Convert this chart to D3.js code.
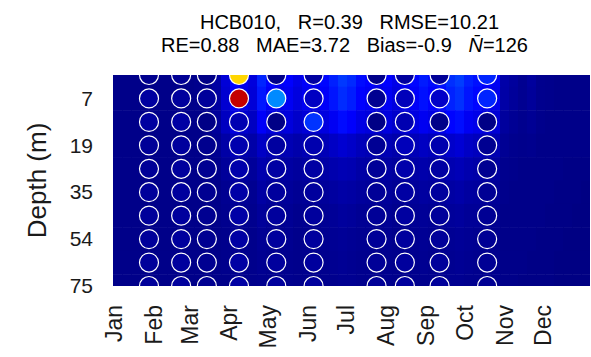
<!DOCTYPE html>
<html>
<head>
<meta charset="utf-8">
<script src="https://cdn.jsdelivr.net/npm/d3@7"></script>
<style>
  body { margin: 0; background: #fff; }
  text { font-family: "Liberation Sans", Arial, sans-serif; }
</style>
</head>
<body>
<div id="chart"></div>
<script>
// month axis
const months = ["Jan","Feb","Mar","Apr","May","Jun","Jul","Aug","Sep","Oct","Nov","Dec"];
const monthStarts = [1, 32, 60, 91, 121, 152, 182, 213, 244, 274, 305, 335];

// depth levels (m), only some are labelled
const depths = [1, 7, 13, 19, 27, 35, 44, 54, 64, 75];
const depthTicks = [7, 19, 35, 54, 75];

// model field, 7-day columns, one array per depth level
const model0 = [0.3,0.3,0.3,0.3,0.3,0.3,0.3,0.3,0.3,0.4,0.5,1.2,3.0,4.6,3.8,3.2,5.8,4.6,4.0,4.4,3.6,4.2,3.8,4.6,5.6,6.6,6.0,4.8,4.4,3.8,4.4,3.6,4.0,4.6,5.4,4.8,5.2,6.2,6.8,5.6,5.0,4.4,4.0,1.4,1.0,0.6,1.0,0.5,0.4,0.3,0.3,0.3,0.3];
const model1 = [0.3,0.3,0.3,0.3,0.3,0.3,0.3,0.3,0.3,0.4,0.5,1.1,2.8,4.2,3.5,3.0,5.3,4.2,3.7,4.0,3.3,3.9,3.5,4.2,5.2,6.1,5.5,4.4,4.0,3.5,4.0,3.3,3.7,4.2,5.0,4.4,4.8,5.7,6.3,5.2,4.6,4.0,3.7,1.3,0.9,0.6,0.9,0.5,0.4,0.3,0.3,0.3,0.3];
const model2 = [0.3,0.3,0.3,0.3,0.3,0.3,0.3,0.3,0.3,0.3,0.4,0.9,2.2,3.3,2.7,2.3,4.2,3.3,2.9,3.2,2.6,3.0,2.7,3.3,4.0,4.8,4.3,3.5,3.2,2.7,3.2,2.6,2.9,3.3,3.9,3.5,3.7,4.5,4.9,4.0,3.6,3.2,2.9,1.0,0.7,0.5,0.7,0.4,0.3,0.3,0.3,0.3,0.3];
const model3 = [0.3,0.3,0.3,0.3,0.3,0.3,0.3,0.3,0.3,0.3,0.3,0.6,1.3,1.9,1.6,1.4,2.4,1.9,1.7,1.8,1.5,1.8,1.6,1.9,2.4,2.8,2.5,2.0,1.8,1.6,1.8,1.5,1.7,1.9,2.3,2.0,2.2,2.6,2.9,2.4,2.1,1.8,1.7,0.7,0.5,0.4,0.5,0.3,0.3,0.3,0.3,0.3,0.3];
const model4 = [0.3,0.3,0.3,0.3,0.3,0.3,0.3,0.3,0.3,0.3,0.3,0.4,0.9,1.3,1.1,0.9,1.6,1.3,1.1,1.2,1.0,1.2,1.1,1.3,1.6,1.8,1.7,1.3,1.2,1.1,1.2,1.0,1.1,1.3,1.5,1.3,1.5,1.7,1.9,1.6,1.4,1.2,1.1,0.5,0.4,0.3,0.3,0.3,0.3,0.3,0.2,0.2,0.2];
const model5 = [0.3,0.3,0.3,0.3,0.3,0.3,0.3,0.3,0.3,0.3,0.3,0.3,0.6,0.9,0.8,0.6,1.2,0.9,0.8,0.9,0.7,0.8,0.8,0.9,1.1,1.3,1.2,1.0,0.9,0.8,0.9,0.7,0.8,0.9,1.1,1.0,1.0,1.2,1.4,1.1,1.0,0.9,0.8,0.4,0.3,0.3,0.3,0.3,0.3,0.2,0.2,0.2,0.1];
const model6 = [0.3,0.3,0.3,0.3,0.3,0.3,0.3,0.3,0.3,0.3,0.3,0.3,0.5,0.7,0.6,0.5,0.9,0.7,0.6,0.7,0.5,0.6,0.6,0.7,0.8,1.0,0.9,0.7,0.7,0.6,0.7,0.5,0.6,0.7,0.8,0.7,0.8,0.9,1.0,0.8,0.8,0.7,0.6,0.3,0.3,0.3,0.3,0.3,0.2,0.2,0.2,0.1,0.1];
const model7 = [0.3,0.3,0.3,0.3,0.3,0.3,0.3,0.3,0.3,0.3,0.3,0.3,0.4,0.6,0.5,0.4,0.7,0.6,0.5,0.6,0.4,0.5,0.5,0.6,0.7,0.8,0.7,0.6,0.6,0.5,0.6,0.4,0.5,0.6,0.7,0.6,0.6,0.7,0.8,0.7,0.6,0.6,0.5,0.3,0.3,0.3,0.3,0.2,0.2,0.2,0.1,0.1,0.1];
const model8 = [0.3,0.3,0.3,0.3,0.3,0.3,0.3,0.3,0.3,0.3,0.3,0.3,0.4,0.5,0.5,0.4,0.6,0.5,0.5,0.5,0.4,0.5,0.4,0.5,0.6,0.7,0.6,0.5,0.5,0.4,0.5,0.4,0.5,0.5,0.6,0.5,0.6,0.6,0.7,0.6,0.5,0.5,0.5,0.3,0.3,0.3,0.2,0.2,0.2,0.1,0.1,0.1,0.1];
const model9 = [0.3,0.3,0.3,0.3,0.3,0.3,0.3,0.3,0.3,0.3,0.3,0.3,0.3,0.5,0.4,0.4,0.5,0.5,0.4,0.5,0.4,0.4,0.4,0.5,0.5,0.6,0.6,0.5,0.5,0.4,0.5,0.4,0.4,0.5,0.5,0.5,0.5,0.6,0.6,0.5,0.5,0.5,0.4,0.3,0.3,0.2,0.2,0.2,0.2,0.1,0.1,0.1,0.1];
const modelRows = [model0, model1, model2, model3, model4, model5, model6, model7, model8, model9];

// observations: sampling day-of-year and values top to bottom
const obsDays = [29, 54, 74, 99, 128, 157, 206, 228, 255, 292];
const obsValues = [
  [0.5, 1.1, 1.1, 0.8, 0.8, 0.9, 0.9, 0.9, 0.9, 0.9],
  [0.7, 1.0, 1.2, 1.0, 1.0, 1.0, 1.0, 1.0, 1.0, 1.0],
  [0.2, 0.9, 0.2, 0.5, 0.6, 0.6, 0.6, 0.6, 0.6, 0.6],
  [26, 37, 1.7, 1.6, 1.5, 1.3, 1.3, 1.2, 1.2, 1.2],
  [0.3, 9.8, 0.2, 1.1, 1.2, 1.0, 1.0, 1.0, 1.0, 1.0],
  [1.1, 2.3, 6.4, 1.6, 1.2, 1.0, 1.0, 1.0, 1.0, 1.0],
  [0.3, 0.6, 0.2, 0.7, 0.8, 0.8, 0.8, 0.8, 0.8, 0.8],
  [1.0, 2.0, 1.7, 2.0, 1.5, 1.2, 1.1, 1.0, 1.0, 1.0],
  [0.8, 2.5, 0.3, 1.6, 1.2, 1.0, 0.9, 0.9, 0.9, 0.9],
  [5.8, 5.8, 0.2, 0.6, 0.6, 0.7, 0.7, 0.7, 0.7, 0.7]
];

const titleLine1 = "HCB010,   R=0.39   RMSE=10.21";
const titleLine2a = "RE=0.88   MAE=3.72   Bias=-0.9   ";
const titleLine2b = "=126";

const margin = {top: 75, right: 1, bottom: 71, left: 113},
      width = 591 - margin.left - margin.right,
      height = 357 - margin.top - margin.bottom;

const svg = d3.select("#chart")
  .append("svg")
    .attr("width", 591)
    .attr("height", 357);

const g = svg.append("g")
    .attr("transform", "translate(" + margin.left + "," + margin.top + ")");

const x = d3.scaleLinear().domain([1, 372]).range([0, width]);
const y = d3.scalePoint().domain(depths).range([0, height]);
const rowH = y.step();

// jet colour map
const color = d3.scaleLinear()
  .domain([0, 4.4, 14.4, 24.4, 34.4, 40])
  .range(["#000080", "#0000ff", "#00ffff", "#ffff00", "#ff0000", "#800000"])
  .clamp(true);

svg.append("defs").append("clipPath").attr("id", "plotclip")
  .append("rect").attr("width", width).attr("height", height);

const plot = g.append("g").attr("clip-path", "url(#plotclip)");

// background model field
const colStarts = d3.range(1, 372, 7);
const cells = [];
modelRows.forEach(function(row, i) {
  row.forEach(function(v, k) {
    cells.push({depth: depths[i], d0: colStarts[k], d1: Math.min(colStarts[k] + 7, 372), value: v});
  });
});

plot.selectAll("rect.cell")
  .data(cells)
  .enter()
  .append("rect")
    .attr("class", "cell")
    .attr("x", function(d) { return x(d.d0); })
    .attr("width", function(d) { return x(d.d1) - x(d.d0) + 0.5; })
    .attr("y", function(d) { return y(d.depth) - rowH / 2; })
    .attr("height", rowH + 0.5)
    .style("fill", function(d) { return color(d.value); });

// observation circles
const obs = [];
obsDays.forEach(function(day, j) {
  obsValues[j].forEach(function(v, i) {
    obs.push({day: day, depth: depths[i], value: v});
  });
});

plot.selectAll("circle")
  .data(obs)
  .enter()
  .append("circle")
    .attr("cx", function(d) { return x(d.day); })
    .attr("cy", function(d) { return y(d.depth); })
    .attr("r", 9.5)
    .style("fill", function(d) { return color(d.value); })
    .style("stroke", "#fff")
    .style("stroke-width", 1.2);

// axes
const yAxis = g.append("g")
  .call(d3.axisLeft(y).tickValues(depthTicks).tickSize(0).tickPadding(20));
yAxis.select(".domain").remove();
yAxis.selectAll("text")
  .style("font-size", "21px")
  .style("fill", "#1a1a1a")
  .style("font-family", "'Liberation Sans', Arial, sans-serif");

const xAxis = g.append("g")
  .attr("transform", "translate(0," + height + ")")
  .call(d3.axisBottom(x).tickValues(monthStarts).tickSize(0)
    .tickFormat(function(d, i) { return months[i]; }));
xAxis.select(".domain").remove();
xAxis.selectAll("text")
  .attr("transform", "rotate(-90)")
  .attr("x", -19)
  .attr("y", 0)
  .attr("dy", "0.36em")
  .style("text-anchor", "end")
  .style("font-size", "23px")
  .style("fill", "#1a1a1a")
  .style("font-family", "'Liberation Sans', Arial, sans-serif");

// y label
svg.append("text")
  .attr("transform", "translate(46," + (margin.top + height / 2) + ") rotate(-90)")
  .style("text-anchor", "middle")
  .style("font-size", "26px")
  .style("fill", "#1a1a1a")
  .text("Depth (m)");

// title
const cx = margin.left + width / 2;
svg.append("text")
  .attr("x", cx - 2)
  .attr("y", 29)
  .attr("xml:space", "preserve")
  .style("white-space", "pre")
  .style("text-anchor", "middle")
  .style("font-size", "20px")
  .style("fill", "#000")
  .text(titleLine1);

const t2 = svg.append("text")
  .attr("x", cx - 7)
  .attr("y", 52)
  .attr("xml:space", "preserve")
  .style("white-space", "pre")
  .style("text-anchor", "middle")
  .style("font-size", "20px")
  .style("fill", "#000");
t2.append("tspan").text(titleLine2a);
t2.append("tspan").style("font-style", "italic").text("N\u0304");
t2.append("tspan").text(titleLine2b);
</script>
</body>
</html>
